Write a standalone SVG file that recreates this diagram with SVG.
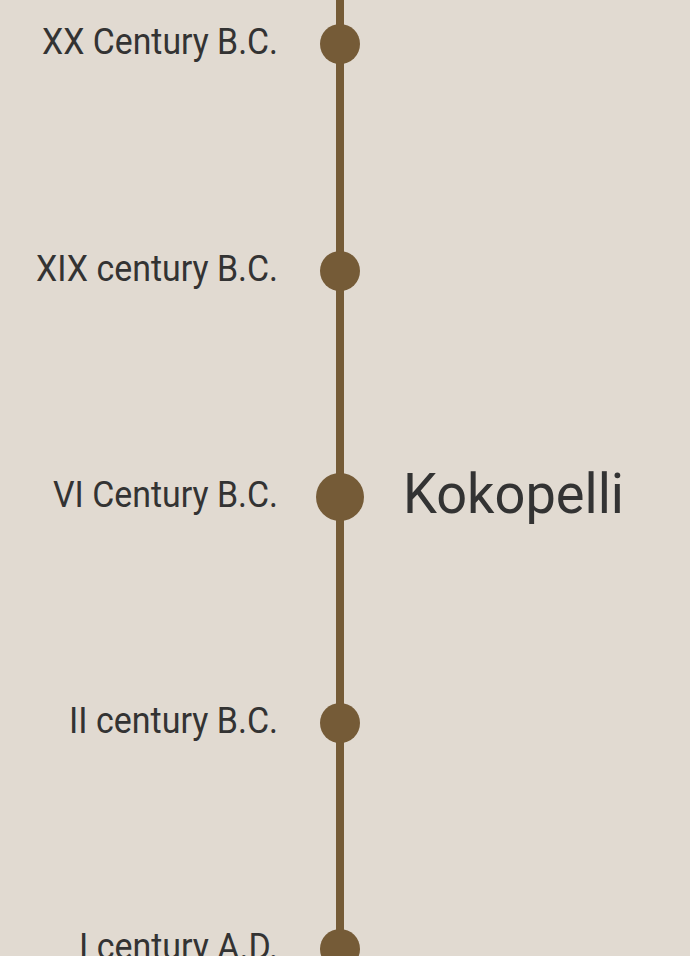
<svg xmlns="http://www.w3.org/2000/svg" width="690" height="956" viewBox="0 0 690 956">
<style>
.lbl{font-family:"Roboto","Liberation Sans",sans-serif;font-size:36.5px;fill:#333333;text-anchor:end}
.dot{fill:#755B37}
.title{font-family:"Roboto","Liberation Sans",sans-serif;font-size:55px;fill:#333333}
</style>
<rect width="690" height="956" fill="#E1DAD1"/>
<g id="connectors">
<line x1="340" y1="0" x2="340" y2="956" stroke="#755B37" stroke-width="8"/>
</g>
<g id="n1"><circle class="dot" cx="340" cy="44" r="20"/><text class="lbl" x="278" y="54" textLength="236" lengthAdjust="spacingAndGlyphs">XX Century B.C.</text></g>
<g id="n2"><circle class="dot" cx="340" cy="271" r="20"/><text class="lbl" x="278" y="281" textLength="242" lengthAdjust="spacingAndGlyphs">XIX century B.C.</text></g>
<g id="n3"><circle class="dot" cx="340" cy="497" r="24"/><text class="lbl" x="278" y="507" textLength="225" lengthAdjust="spacingAndGlyphs">VI Century B.C.</text><text class="title" x="403" y="513" textLength="221" lengthAdjust="spacingAndGlyphs">Kokopelli</text></g>
<g id="n4"><circle class="dot" cx="340" cy="723" r="20"/><text class="lbl" x="278" y="733" textLength="209" lengthAdjust="spacingAndGlyphs">II century B.C.</text></g>
<g id="n5"><circle class="dot" cx="340" cy="949" r="20"/><text class="lbl" x="278" y="959" textLength="199" lengthAdjust="spacingAndGlyphs">I century A.D.</text></g>
</svg>
